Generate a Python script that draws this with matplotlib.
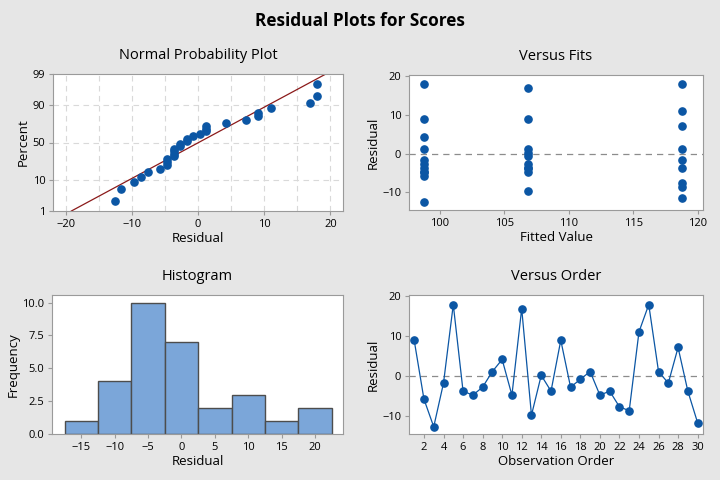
import numpy as np
import matplotlib
matplotlib.use("Agg")
from matplotlib import pyplot as plt
from statistics import NormalDist

residuals = [9.0, -5.7, -12.6, -1.7, 17.9, -3.7, -4.7, -2.7, 1.2, 4.2, -4.7,
             16.9, -9.7, 0.25, -3.7, 9.0, -2.7, -0.75, 1.2, -4.7, -3.7,
             -7.6, -8.6, 11.1, 17.9, 1.2, -1.7, 7.2, -3.7, -11.6]
# fitted value of each observation (three groups)
fitted = [98.75] * 11 + [106.8] * 10 + [118.75] * 9

hist_centers = [-15, -10, -5, 0, 5, 10, 15, 20]
hist_counts = [1, 4, 10, 7, 2, 3, 1, 2]

pct_ticks = [1, 10, 50, 90, 99]

BLUE = '#0b56a4'
plt.rcParams['font.family'] = ['Open Sans', 'DejaVu Sans']

fig = plt.figure(figsize=(7.2, 4.8), dpi=100, facecolor='#e6e6e6')
W, H = 720., 480.

def make_ax(x0, y0, x1, y1):
    ax = fig.add_axes([x0 / W, 1 - y1 / H, (x1 - x0) / W, (y1 - y0) / H])
    for s in ax.spines.values():
        s.set_color('#9a9a9a')
    ax.tick_params(colors='#9a9a9a', labelcolor='black', labelsize=8, length=3, width=0.8, pad=2.5)
    return ax

def labels(ax, xl, yl, title):
    ax.set_xlabel(xl, fontsize=9.5, labelpad=1.5)
    ax.set_ylabel(yl, fontsize=9.5, labelpad=2)
    ax.set_title(title, fontsize=10.5, pad=11)

fig.text(0.5, 1 - 20.5 / H, 'Residual Plots for Scores', ha='center', va='center',
         fontsize=12.4, fontweight='bold')

# ---- normal probability plot
ax1 = make_ax(53, 74, 343, 211)
nd = NormalDist()
r = np.sort(np.array(residuals))
n = len(r)
probs = [(i - 0.3) / (n + 0.4) for i in range(1, n + 1)]
z = [nd.inv_cdf(p) for p in probs]
mu, sd = np.mean(residuals), np.std(residuals, ddof=1)
zl = np.array([nd.inv_cdf(0.01), nd.inv_cdf(0.99)])
for gx in range(-20, 21, 5):
    ax1.axvline(gx, color='#d9d9d9', ls=(0, (5, 4)), lw=0.8, zorder=0)
for gp in [10, 50, 90]:
    ax1.axhline(nd.inv_cdf(gp / 100), color='#d9d9d9', ls=(0, (5, 4)), lw=0.8, zorder=0)
ax1.plot(mu + sd * zl, zl, color='#8b1a1a', lw=0.9)
ax1.plot(r, z, 'o', color=BLUE, ms=5.2)
ax1.set_xlim(-21.9, 21.9)
ax1.set_ylim(zl[0], zl[1])
ax1.set_yticks([nd.inv_cdf(p / 100) for p in pct_ticks])
ax1.set_yticklabels([str(p) for p in pct_ticks])
ax1.set_xticks([-20, -10, 0, 10, 20])
labels(ax1, 'Residual', 'Percent', 'Normal Probability Plot')

# ---- versus fits
ax2 = make_ax(409, 75, 703, 210)
ax2.axhline(0, color='#8c8c8c', ls=(0, (5, 4)), lw=0.9, zorder=0)
ax2.plot(fitted, residuals, 'o', color=BLUE, ms=5.2, ls='none')
ax2.set_xlim(97.6, 120.4)
ax2.set_ylim(-14.6, 20.3)
ax2.set_xticks([100, 105, 110, 115, 120])
ax2.set_yticks([-10, 0, 10, 20])
labels(ax2, 'Fitted Value', 'Residual', 'Versus Fits')

# ---- histogram
ax3 = make_ax(52, 295, 343, 434)
ax3.bar(hist_centers, hist_counts, width=5, color='#7ba6d9', edgecolor='#4d4d4d', lw=1.0)
ax3.set_xlim(-19.4, 24.2)
ax3.set_ylim(0, 10.58)
ax3.set_xticks(hist_centers)
ax3.set_yticks([0, 2.5, 5, 7.5, 10])
ax3.set_yticklabels(['0.0', '2.5', '5.0', '7.5', '10.0'])
labels(ax3, 'Residual', 'Frequency', 'Histogram')

# ---- versus order
ax4 = make_ax(409, 295, 703, 434)
order = np.arange(1, len(residuals) + 1)
ax4.axhline(0, color='#8c8c8c', ls=(0, (5, 4)), lw=0.9, zorder=0)
ax4.plot(order, residuals, '-o', color=BLUE, ms=5.2, lw=0.9)
ax4.set_xlim(0.47, 30.55)
ax4.set_ylim(-14.4, 20.3)
ax4.set_xticks(range(2, 31, 2))
ax4.set_yticks([-10, 0, 10, 20])
labels(ax4, 'Observation Order', 'Residual', 'Versus Order')

fig.savefig('out.png', dpi=100, facecolor=fig.get_facecolor())
